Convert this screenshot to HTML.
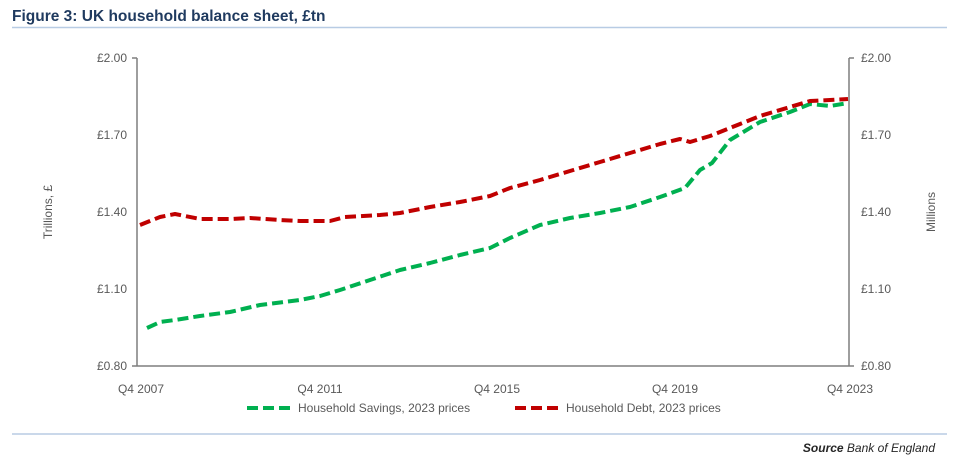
<!DOCTYPE html>
<html><head><meta charset="utf-8"><style>
body{margin:0;background:#fff;width:959px;height:463px;overflow:hidden;font-family:"Liberation Sans",sans-serif}
</style></head><body>
<svg width="959" height="463" xmlns="http://www.w3.org/2000/svg" font-family="Liberation Sans, sans-serif">
<text x="12" y="21" font-size="15.5" font-weight="bold" fill="#1f3a5f">Figure 3: UK household balance sheet, £tn</text>
<line x1="12" y1="27.5" x2="947" y2="27.5" stroke="#b8cce4" stroke-width="1.5"/>
<g stroke="#7f7f7f" stroke-width="1.5" fill="none">
<line x1="137" y1="58" x2="137" y2="366"/>
<line x1="849" y1="58" x2="849" y2="366"/>
<line x1="132" y1="366" x2="854" y2="366"/>
<line x1="132" y1="58" x2="137" y2="58"/><line x1="849" y1="58" x2="854" y2="58"/>
</g>
<g font-size="12" fill="#595959">
<text x="127" y="62" text-anchor="end">£2.00</text>
<text x="127" y="139" text-anchor="end">£1.70</text>
<text x="127" y="216" text-anchor="end">£1.40</text>
<text x="127" y="293" text-anchor="end">£1.10</text>
<text x="127" y="370" text-anchor="end">£0.80</text>
<text x="861" y="62">£2.00</text>
<text x="861" y="139">£1.70</text>
<text x="861" y="216">£1.40</text>
<text x="861" y="293">£1.10</text>
<text x="861" y="370">£0.80</text>
<text x="141" y="393" text-anchor="middle">Q4 2007</text>
<text x="320" y="393" text-anchor="middle">Q4 2011</text>
<text x="497" y="393" text-anchor="middle">Q4 2015</text>
<text x="675" y="393" text-anchor="middle">Q4 2019</text>
<text x="850" y="393" text-anchor="middle">Q4 2023</text>
<text transform="translate(52,212) rotate(-90)" text-anchor="middle">Trillions, £</text>
<text transform="translate(935,212) rotate(-90)" text-anchor="middle">Millions</text>
<text x="298" y="412">Household Savings, 2023 prices</text>
<text x="566" y="412">Household Debt, 2023 prices</text>
</g>
<g fill="none" stroke-width="4" stroke-dasharray="11,5" stroke-linejoin="round">
<polyline stroke="#00b050" points="147,328 160,322 175,320 200,316 230,312 260,305 300,300 320,296 340,290 370,280 400,270 430,263 460,255 490,248 510,238 540,225 570,218 600,213 630,207 660,197 685,188 700,170 712,163 730,140 760,122 790,112 810,104 830,106 848,103"/>
<polyline stroke="#c00000" points="140,225 160,217 175,214 200,219 230,219 250,218 280,220 300,221 330,221 345,217 380,215 400,213 430,207 460,202 490,196 510,188 540,180 570,171 600,162 630,153 660,144 680,139 690,142 710,136 740,124 760,116 790,107 810,101 830,100 848,99"/>
<line stroke="#00b050" x1="247" y1="408" x2="290" y2="408"/>
<line stroke="#c00000" x1="515" y1="408" x2="558" y2="408"/>
</g>
<line x1="12" y1="434" x2="947" y2="434" stroke="#b8cce4" stroke-width="1.5"/>
<text x="935" y="452" text-anchor="end" font-size="12" fill="#262626"><tspan font-weight="bold" font-style="italic">Source</tspan><tspan font-style="italic"> Bank of England</tspan></text>
</svg>
</body></html>
